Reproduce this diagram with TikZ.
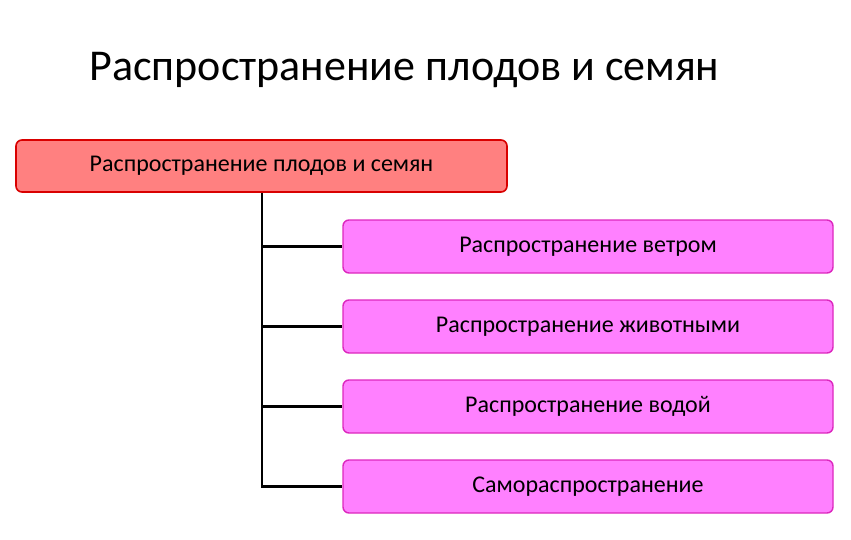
\documentclass[tikz,border=0pt]{standalone}
\usepackage{fontspec}
\setmainfont{Carlito}
\begin{document}
\begin{tikzpicture}[x=1pt,y=-1pt,
  topbox/.style={draw=red!85!black,line width=1.6pt,fill={rgb,255:red,255;green,128;blue,128},rounded corners=6pt,minimum width=491pt,minimum height=52pt,font=\fontsize{24}{28}\selectfont,inner sep=0pt},
  subbox/.style={draw={rgb,255:red,220;green,40;blue,190},line width=1.4pt,fill={rgb,255:red,255;green,128;blue,255},rounded corners=6pt,minimum width=490pt,minimum height=53pt,font=\fontsize{24}{28}\selectfont,inner sep=0pt},
  conn/.style={line width=2.2pt,black}]
\useasboundingbox (0,0) rectangle (851,540);
\fill[white] (0,0) rectangle (851,540);
\node[anchor=west,font=\fontsize{44}{48}\selectfont] (title) at (86,70) {Распространение плодов и семян};
\node[topbox] (top) at (261.5,166) {Распространение плодов и семян};
\node[subbox] (s1) at (588,246.5) {Распространение ветром};
\node[subbox] (s2) at (588,326.5) {Распространение животными};
\node[subbox] (s3) at (588,406.5) {Распространение водой};
\node[subbox] (s4) at (588,486.5) {Самораспространение};
\coordinate (v) at (262,192);
\draw[conn] (top.south -| v) |- (s4.west);
\foreach \s in {s1,s2,s3}{\draw[conn] (v |- \s.west) -- (\s.west);}
\end{tikzpicture}
\end{document}
